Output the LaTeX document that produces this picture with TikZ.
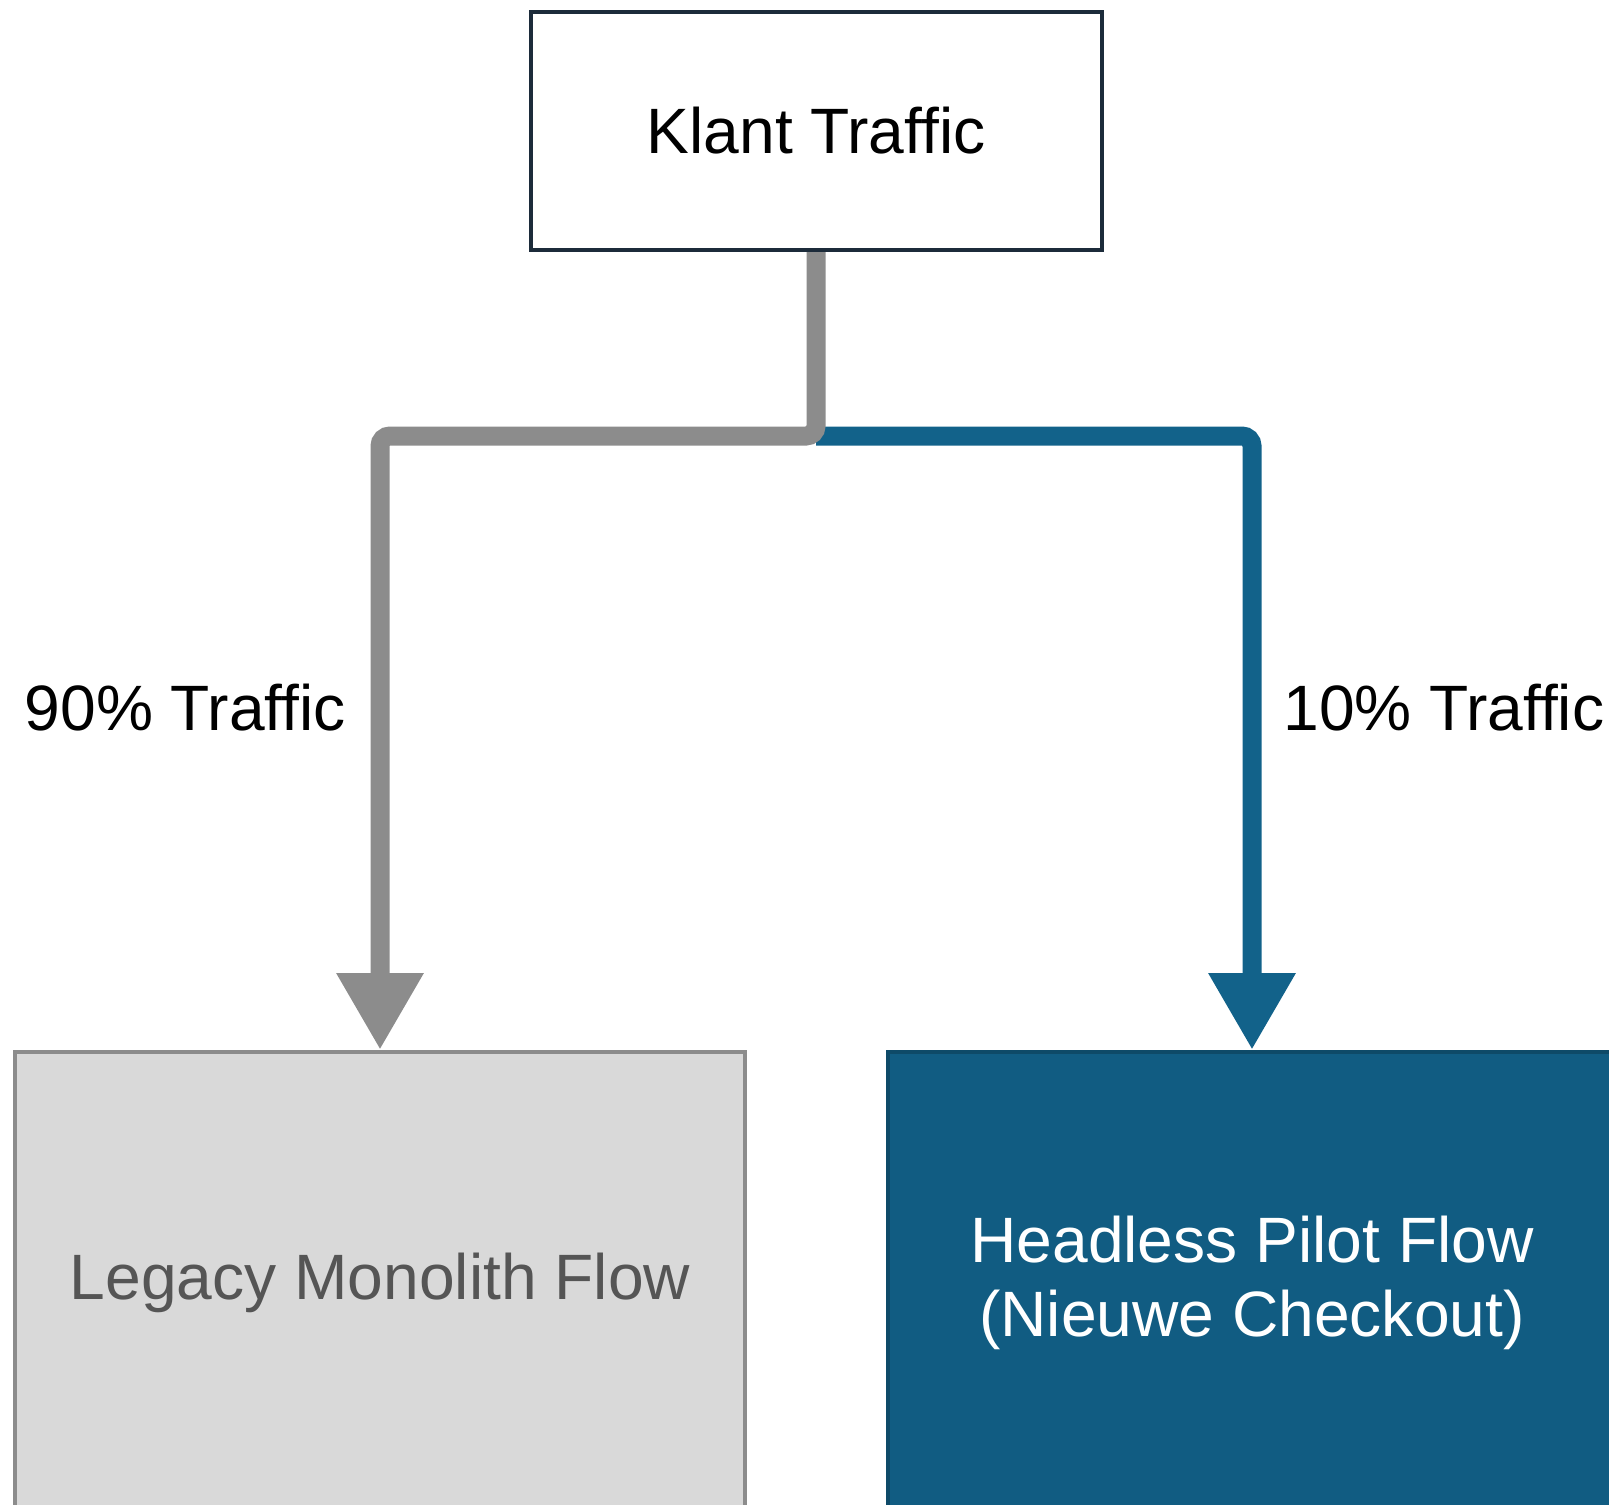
\documentclass[tikz,border=0pt]{standalone}
\usepackage{fontspec}
\setmainfont{Liberation Sans}
\usetikzlibrary{arrows.meta,positioning}

\definecolor{linegray}{HTML}{8C8C8C}
\definecolor{legacyfill}{HTML}{D9D9D9}
\definecolor{legacytext}{HTML}{555555}
\definecolor{pilotblue}{HTML}{12628A}
\definecolor{pilotfill}{HTML}{115C82}
\definecolor{topedge}{HTML}{1C2B3A}

\begin{document}
\begin{tikzpicture}[
    x=0.2mm, y=-0.2mm,
    every node/.style={font=\fontsize{36.5}{42}\selectfont},
    box/.style={draw, line width=0.8mm, align=center, inner sep=0pt},
    flowline/.style={line width=3.8mm, rounded corners=2mm},
    arrow/.style={flowline, -{Triangle[width=16.4mm, length=15.4mm]}}
]
    \useasboundingbox (0,0) rectangle (1609,1504);

    % Incoming traffic at top
    \node[box, draw=topedge, fill=white, minimum width=114.2mm, minimum height=47.6mm] (klant) at (816,131) {Klant Traffic};

    % The two flows
    \node[box, draw=linegray, fill=legacyfill, text=legacytext, minimum width=145.8mm, minimum height=92.4mm] (legacy) at (380,1283) {Legacy Monolith Flow};
    \node[box, draw=pilotfill!80!black, fill=pilotfill, text=white, minimum width=145.8mm, minimum height=92.4mm] (pilot) at (1252,1283) {Headless Pilot Flow\\(Nieuwe Checkout)};

    % Split point
    \coordinate (split) at (klant.south |- 0,436);

    % Arrows
    \draw[arrow, pilotblue] (split) -| (pilot.north);
    \draw[arrow, linegray] (klant.south) -- (split) -| (legacy.north);

    % Traffic shares
    \node[anchor=east, inner sep=0pt] (oldshare) at (346,708) {90\% Traffic};
    \node[anchor=west, inner sep=0pt] (newshare) at (1283,708) {10\% Traffic};
\end{tikzpicture}
\end{document}
